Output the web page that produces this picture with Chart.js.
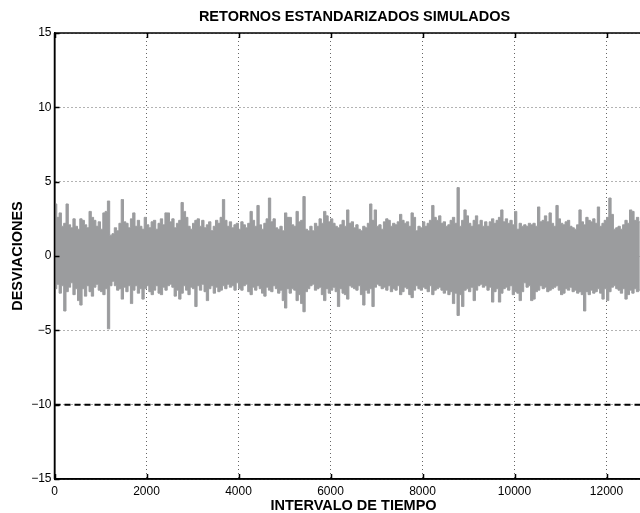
<!DOCTYPE html>
<html><head><meta charset="utf-8">
<style>html,body{margin:0;padding:0;overflow:hidden;background:#fff;width:640px;height:513px}</style>
<script src="https://cdn.jsdelivr.net/npm/chart.js@4/dist/chart.umd.min.js"></script>
</head><body>
<canvas id="c" width="709" height="513" style="display:block;width:709px;height:513px"></canvas>
<script>
const chartTitle = 'RETORNOS ESTANDARIZADOS SIMULADOS';
const xAxisTitle = 'INTERVALO DE TIEMPO';
const yAxisTitle = 'DESVIACIONES';
const binWidth = 50; // time steps covered by each envelope reading
// highest value reached within each bin of 50 time steps
const upperEnvelope = [
 3.5,2.6,2.9,2.0,2.2,3.5,2.1,1.9,2.5,2.0, 1.8,2.5,2.4,2.1,1.9,3.0,2.6,2.4,2.0,2.3,
 1.8,2.9,3.0,3.7,1.4,1.5,1.9,1.7,2.2,3.8, 2.3,2.2,1.9,2.5,2.9,2.0,2.4,2.0,1.8,2.6,
 2.1,1.9,2.3,2.4,1.8,2.2,2.5,2.1,2.9,2.9, 2.3,
 2.5,1.9,2.2,2.4,3.6,3.0,2.6,2.0,1.8,2.2, 2.4,2.5,2.0,2.4,1.9,2.1,2.3,1.7,2.0,2.4,
 2.2,2.6,3.8,2.4,2.0,2.3,1.9,2.1,2.2,1.8, 2.3,2.1,1.9,2.2,3.0,2.4,2.0,3.4,2.1,1.8,
 2.2,2.5,3.9,2.3,2.5,1.9,1.8,2.0,1.7,2.9, 2.6,
 2.6,2.1,2.0,3.0,2.3,2.4,4.0,1.8,1.7,2.0, 1.7,2.2,2.0,2.5,2.2,3.0,2.7,2.3,2.5,2.2,
 2.0,1.9,2.1,2.4,2.0,3.1,2.2,2.3,1.9,2.1, 1.8,1.7,2.0,1.9,2.2,3.5,2.4,3.1,2.0,2.1,
 1.8,2.3,2.5,2.4,2.0,2.2,2.1,2.3,2.8,2.4, 2.2,
 2.3,2.0,2.9,2.6,1.7,2.0,1.9,2.3,2.0,2.2, 2.4,3.4,2.6,2.4,2.7,2.2,2.3,2.0,2.1,2.4,
 2.6,2.2,4.6,2.0,2.4,3.1,2.7,2.2,2.0,2.4, 2.7,2.1,2.4,2.0,2.3,2.0,2.3,2.5,2.2,2.4,
 2.6,3.1,2.3,2.5,2.2,2.4,2.1,3.0,1.8,2.2, 2.0,
 2.1,2.0,2.2,2.1,2.2,2.0,3.3,2.3,2.4,2.7, 2.3,2.9,2.2,2.0,3.4,2.5,2.2,2.1,2.3,2.4,
 2.0,1.9,1.8,2.1,3.1,2.3,2.1,2.6,2.4,2.3, 2.5,2.2,3.3,2.0,2.2,2.4,2.6,3.9,2.8,1.8,
 1.9,2.0,1.8,2.1,2.4,2.2,3.1,3.0,2.4,2.6, 2.3
];
// lowest value reached within each bin of 50 time steps
const lowerEnvelope = [
 -2.2,-1.9,-2.5,-2.0,-3.7,-2.4,-2.1,-1.8,-2.6,-2.2, -3.0,-3.3,-2.2,-2.7,-2.0,-2.4,-2.7,-2.1,-1.9,-2.3,
 -2.4,-2.6,-2.2,-4.9,-2.0,-1.7,-2.0,-2.3,-2.2,-2.9, -2.1,-2.4,-2.0,-3.2,-2.3,-2.0,-2.5,-2.2,-2.9,-2.2,
 -2.0,-2.4,-2.6,-2.3,-2.0,-2.5,-2.6,-2.1,-2.3,-2.0, -1.9,
 -2.1,-2.7,-2.3,-2.9,-2.5,-2.0,-2.3,-2.6,-2.1,-2.2, -3.4,-2.0,-2.3,-1.9,-2.4,-3.0,-2.2,-2.0,-2.5,-2.1,
 -2.4,-2.3,-2.0,-2.2,-1.9,-2.1,-2.0,-2.3,-1.8,-2.2, -2.3,-2.0,-1.9,-2.4,-2.6,-2.1,-2.3,-2.0,-2.2,-2.5,
 -2.7,-2.1,-2.3,-2.4,-2.0,-2.2,-2.5,-2.3,-3.0,-3.5, -2.2,
 -2.5,-2.2,-2.3,-3.0,-2.6,-3.2,-3.75,-2.4,-2.2,-2.0, -1.9,-2.3,-2.2,-2.1,-2.6,-3.0,-2.2,-2.5,-2.3,-2.1,
 -2.4,-3.4,-2.2,-2.5,-2.6,-2.9,-2.0,-2.1,-2.2,-2.3, -2.0,-2.6,-3.3,-2.3,-2.5,-2.2,-3.4,-2.1,-1.9,-2.0,
 -2.2,-2.1,-2.3,-2.0,-2.4,-2.2,-2.3,-2.0,-2.6,-2.4, -2.1,
 -2.2,-2.6,-2.8,-2.3,-2.0,-2.2,-2.3,-2.1,-2.2,-2.4, -2.0,-2.6,-2.3,-2.2,-2.1,-2.3,-2.5,-2.3,-2.6,-2.4,
 -3.2,-2.5,-4.0,-2.6,-3.4,-2.3,-2.2,-2.4,-2.1,-3.0, -2.3,-2.0,-1.9,-2.1,-2.0,-2.3,-2.1,-3.1,-2.4,-2.2,
 -3.1,-2.5,-2.2,-2.1,-2.3,-2.0,-2.6,-2.4,-2.5,-3.0, -2.4,
 -1.8,-2.1,-2.0,-3.0,-2.9,-2.4,-2.3,-2.0,-2.2,-2.1, -2.4,-2.3,-2.2,-2.1,-2.0,-2.3,-2.6,-2.5,-2.2,-2.3,
 -2.1,-2.4,-2.3,-2.5,-2.4,-2.6,-3.7,-2.4,-2.6,-2.3, -2.5,-2.4,-2.2,-2.5,-2.9,-2.2,-3.0,-2.4,-2.1,-2.0,
 -2.2,-2.3,-2.5,-2.2,-2.9,-2.6,-2.3,-2.5,-2.2,-2.4, -2.3
];
const thresholdLevel = -10;
const xRange = [0, 13000];
const yRange = [-15, 15];
const xTickValues = [0, 2000, 4000, 6000, 8000, 10000, 12000];
const yTickValues = [-15, -10, -5, 0, 5, 10, 15];

const FONT = "'Liberation Sans', Arial, Helvetica, sans-serif";
const bandColor = '#9b9c9e';

const upperPts = upperEnvelope.map((v, i) => ({x: i * binWidth + binWidth / 2, y: v}));
const lowerPts = lowerEnvelope.map((v, i) => ({x: i * binWidth + binWidth / 2, y: v}));

const matlabAxes = {
  id: 'matlabAxes',
  afterDatasetsDraw(chart) {
    const {ctx, chartArea: a, scales: {x, y}} = chart;
    ctx.save();
    ctx.strokeStyle = '#000';
    ctx.lineWidth = 1.5;
    ctx.setLineDash([]);
    ctx.beginPath();
    ctx.moveTo(a.left, a.top); ctx.lineTo(a.right, a.top);
    ctx.moveTo(a.left, a.top); ctx.lineTo(a.left, a.bottom);
    ctx.moveTo(a.left, a.bottom); ctx.lineTo(a.right, a.bottom);
    const tl = 5;
    x.ticks.forEach(t => {
      const px = Math.round(x.getPixelForValue(t.value)) + 0.5;
      ctx.moveTo(px, a.bottom); ctx.lineTo(px, a.bottom - tl);
      ctx.moveTo(px, a.top); ctx.lineTo(px, a.top + tl);
    });
    y.ticks.forEach(t => {
      const py = Math.round(y.getPixelForValue(t.value)) + 0.5;
      ctx.moveTo(a.left, py); ctx.lineTo(a.left + tl, py);
    });
    ctx.stroke();
    ctx.restore();
  }
};

new Chart(document.getElementById('c'), {
  type: 'line',
  data: {
    datasets: [
      {label: 'max', data: upperPts, borderColor: bandColor, backgroundColor: bandColor,
       borderWidth: 1, pointRadius: 0, stepped: 'middle', fill: '+1', order: 2},
      {label: 'min', data: lowerPts, borderColor: bandColor, backgroundColor: bandColor,
       borderWidth: 1, pointRadius: 0, stepped: 'middle', fill: false, order: 2},
      {label: 'umbral', data: [{x: xRange[0], y: thresholdLevel}, {x: xRange[1], y: thresholdLevel}],
       borderColor: '#000', borderWidth: 2, borderDash: [6, 4], pointRadius: 0, fill: false, order: 1}
    ]
  },
  options: {
    responsive: false,
    animation: false,
    events: [],
    layout: {padding: {top: 0, right: 0, bottom: 0, left: 0}},
    plugins: {
      legend: {display: false},
      tooltip: {enabled: false},
      title: {display: true, text: chartTitle, color: '#000',
        font: {family: FONT, size: 14.5, weight: 'bold', lineHeight: 1},
        padding: {top: 9.45, bottom: 9.05}}
    },
    scales: {
      x: {
        type: 'linear', min: xRange[0], max: xRange[1],
        afterBuildTicks: s => { s.ticks = xTickValues.map(v => ({value: v})); },
        afterFit: s => { s.height = 34; },
        ticks: {color: '#000', font: {family: FONT, size: 12}, padding: 5, maxRotation: 0,
          autoSkip: false, callback: v => String(v)},
        grid: {color: '#666', lineWidth: 1, drawTicks: false},
        border: {display: true, color: '#000', width: 1.5, dash: [1, 3]},
        title: {display: true, text: xAxisTitle, color: '#000',
          font: {family: FONT, size: 14.5, weight: 'bold', lineHeight: 1}, padding: {top: 0, bottom: 0}}
      },
      y: {
        min: yRange[0], max: yRange[1],
        afterBuildTicks: s => { s.ticks = yTickValues.map(v => ({value: v})); },
        afterFit: s => { s.width = 54.5; },
        ticks: {color: '#000', font: {family: FONT, size: 12}, padding: 3,
          callback: v => String(v).replace('-', '\u2212')},
        grid: {color: '#666', lineWidth: 1, drawTicks: false},
        border: {display: true, color: '#000', width: 1.5, dash: [1, 3]},
        title: {display: true, text: yAxisTitle, color: '#000',
          font: {family: FONT, size: 14.5, weight: 'bold', lineHeight: 1}, padding: {top: 10.25, bottom: 0}}
      },
      yRight: {
        position: 'right', min: yRange[0], max: yRange[1],
        afterFit: s => { s.width = 56.5; },
        ticks: {display: false},
        grid: {display: false, drawTicks: false},
        border: {display: false}
      }
    }
  },
  plugins: [matlabAxes]
});
</script>
</body></html>
